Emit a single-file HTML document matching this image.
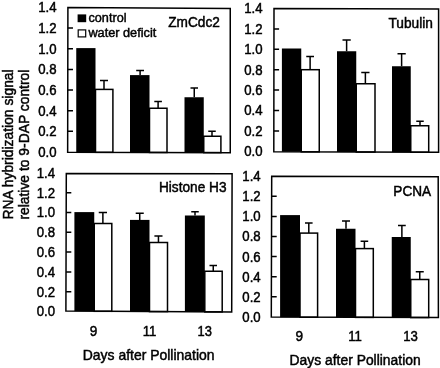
<!DOCTYPE html>
<html><head><meta charset="utf-8"><title>Chart</title>
<style>
html,body{margin:0;padding:0;background:#fff;}
body{width:440px;height:368px;overflow:hidden;}
svg{display:block;filter:grayscale(1) blur(0.35px);}
text{font-family:"Liberation Sans",sans-serif;font-size:13.6px;fill:#000;stroke:#000;stroke-width:0.45px;}
</style></head><body>
<svg width="440" height="368" viewBox="0 0 440 368">
<rect x="0" y="0" width="440" height="368" fill="#fff"/>
<g>
<rect x="76.25" y="48.1" width="19.25" height="104.15" fill="#000"/>
<rect x="95.5" y="89.4" width="17.40" height="62.90" fill="#fff" stroke="#000" stroke-width="1.5"/>
<path d="M104.00 89.4 V80.5 M100 80.5 H108" stroke="#000" stroke-width="1.5" fill="none"/>
<rect x="130" y="75.1" width="19.50" height="77.30" fill="#000"/>
<path d="M140.10 75.1 V70.5 M136.2 70.5 H144" stroke="#000" stroke-width="1.5" fill="none"/>
<rect x="149.5" y="108.25" width="17.50" height="44.20" fill="#fff" stroke="#000" stroke-width="1.5"/>
<path d="M158.10 108.25 V101.5 M154.3 101.5 H161.9" stroke="#000" stroke-width="1.5" fill="none"/>
<rect x="184.5" y="97.25" width="19.25" height="55.30" fill="#000"/>
<path d="M194.25 97.25 V88 M190.5 88 H198" stroke="#000" stroke-width="1.5" fill="none"/>
<rect x="203.75" y="136.25" width="17.15" height="16.35" fill="#fff" stroke="#000" stroke-width="1.5"/>
<path d="M212.00 136.25 V131.25 M208.25 131.25 H215.75" stroke="#000" stroke-width="1.5" fill="none"/>
<polygon points="67.9,7.4 230.25,8.4 230.25,152.65 67.65,152.2" fill="none" stroke="#000" stroke-width="1.5"/>
<text transform="translate(56.50,156.95) scale(0.97,1.07)" text-anchor="end">0.0</text>
<text transform="translate(56.50,136.30) scale(0.97,1.07)" text-anchor="end">0.2</text>
<text transform="translate(56.50,115.65) scale(0.97,1.07)" text-anchor="end">0.4</text>
<text transform="translate(56.50,95.00) scale(0.97,1.07)" text-anchor="end">0.6</text>
<text transform="translate(56.50,74.35) scale(0.97,1.07)" text-anchor="end">0.8</text>
<text transform="translate(56.50,53.70) scale(0.97,1.07)" text-anchor="end">1.0</text>
<text transform="translate(56.50,33.05) scale(0.97,1.07)" text-anchor="end">1.2</text>
<text transform="translate(56.50,12.40) scale(0.97,1.07)" text-anchor="end">1.4</text>
<path d="M67.78 131.35 h5.2 M67.78 110.70 h5.2 M67.78 90.05 h5.2 M67.78 69.40 h5.2 M67.78 48.75 h5.2 M67.78 28.10 h5.2 " stroke="#000" stroke-width="1.5" fill="none"/>
<text transform="translate(219.80,26.80) scale(1.005,1.06)" text-anchor="end">ZmCdc2</text>
</g>
<g>
<rect x="281.9" y="48.5" width="19.35" height="103.26" fill="#000"/>
<rect x="301.25" y="69.7" width="18.00" height="82.13" fill="#fff" stroke="#000" stroke-width="1.5"/>
<path d="M310.12 69.7 V56.4 M306.25 56.4 H314.0" stroke="#000" stroke-width="1.5" fill="none"/>
<rect x="337" y="51.25" width="19.25" height="100.72" fill="#000"/>
<path d="M346.62 51.25 V40 M342.5 40 H350.75" stroke="#000" stroke-width="1.5" fill="none"/>
<rect x="356.25" y="83.75" width="18.75" height="68.28" fill="#fff" stroke="#000" stroke-width="1.5"/>
<path d="M365.38 83.75 V72.5 M361.25 72.5 H369.5" stroke="#000" stroke-width="1.5" fill="none"/>
<rect x="392" y="66.25" width="18.75" height="85.91" fill="#000"/>
<path d="M401.62 66.25 V53.75 M397.5 53.75 H405.75" stroke="#000" stroke-width="1.5" fill="none"/>
<rect x="410.75" y="125.75" width="17.95" height="26.48" fill="#fff" stroke="#000" stroke-width="1.5"/>
<path d="M420.00 125.75 V121.2 M416.25 121.2 H423.75" stroke="#000" stroke-width="1.5" fill="none"/>
<polygon points="274.0,8.5 438.6,9.1 438.6,152.3 273.8,151.7" fill="none" stroke="#000" stroke-width="1.5"/>
<text transform="translate(262.60,156.25) scale(0.97,1.07)" text-anchor="end">0.0</text>
<text transform="translate(262.60,135.85) scale(0.97,1.07)" text-anchor="end">0.2</text>
<text transform="translate(262.60,115.45) scale(0.97,1.07)" text-anchor="end">0.4</text>
<text transform="translate(262.60,95.05) scale(0.97,1.07)" text-anchor="end">0.6</text>
<text transform="translate(262.60,74.65) scale(0.97,1.07)" text-anchor="end">0.8</text>
<text transform="translate(262.60,54.25) scale(0.97,1.07)" text-anchor="end">1.0</text>
<text transform="translate(262.60,33.85) scale(0.97,1.07)" text-anchor="end">1.2</text>
<text transform="translate(262.60,13.45) scale(0.97,1.07)" text-anchor="end">1.4</text>
<path d="M273.90 130.90 h5.2 M273.90 110.50 h5.2 M273.90 90.10 h5.2 M273.90 69.70 h5.2 M273.90 49.30 h5.2 M273.90 28.90 h5.2 " stroke="#000" stroke-width="1.5" fill="none"/>
<text transform="translate(432.90,27.60) scale(1.01,1.01)" text-anchor="end">Tubulin</text>
</g>
<g>
<rect x="74.4" y="212.1" width="19.85" height="99.10" fill="#000"/>
<rect x="94.25" y="223.5" width="17.55" height="87.80" fill="#fff" stroke="#000" stroke-width="1.5"/>
<path d="M102.88 223.5 V212.6 M98.75 212.6 H107" stroke="#000" stroke-width="1.5" fill="none"/>
<rect x="130" y="219.9" width="19.50" height="91.60" fill="#000"/>
<path d="M139.72 219.9 V213.25 M135.7 213.25 H143.75" stroke="#000" stroke-width="1.5" fill="none"/>
<rect x="149.5" y="242.5" width="18.00" height="69.10" fill="#fff" stroke="#000" stroke-width="1.5"/>
<path d="M158.45 242.5 V235.9 M154.4 235.9 H162.5" stroke="#000" stroke-width="1.5" fill="none"/>
<rect x="184.9" y="215.5" width="19.90" height="96.30" fill="#000"/>
<path d="M195.00 215.5 V211.75 M191.25 211.75 H198.75" stroke="#000" stroke-width="1.5" fill="none"/>
<rect x="204.8" y="271.25" width="17.40" height="40.65" fill="#fff" stroke="#000" stroke-width="1.5"/>
<path d="M213.25 271.25 V265.6 M209.5 265.6 H217" stroke="#000" stroke-width="1.5" fill="none"/>
<polygon points="66.3,173.4 232.1,173.8 231.7,312.0 65.9,311.1" fill="none" stroke="#000" stroke-width="1.5"/>
<text transform="translate(55.10,316.45) scale(0.97,1.07)" text-anchor="end">0.0</text>
<text transform="translate(55.10,296.65) scale(0.97,1.07)" text-anchor="end">0.2</text>
<text transform="translate(55.10,276.85) scale(0.97,1.07)" text-anchor="end">0.4</text>
<text transform="translate(55.10,257.05) scale(0.97,1.07)" text-anchor="end">0.6</text>
<text transform="translate(55.10,237.25) scale(0.97,1.07)" text-anchor="end">0.8</text>
<text transform="translate(55.10,217.45) scale(0.97,1.07)" text-anchor="end">1.0</text>
<text transform="translate(55.10,197.65) scale(0.97,1.07)" text-anchor="end">1.2</text>
<text transform="translate(55.10,177.85) scale(0.97,1.07)" text-anchor="end">1.4</text>
<path d="M66.10 291.70 h5.2 M66.10 271.90 h5.2 M66.10 252.10 h5.2 M66.10 232.30 h5.2 M66.10 212.50 h5.2 M66.10 192.70 h5.2 " stroke="#000" stroke-width="1.5" fill="none"/>
<text transform="translate(226.50,192.30) scale(1.005,1.05)" text-anchor="end">Histone H3</text>
</g>
<g>
<rect x="280.1" y="215.1" width="19.90" height="102.06" fill="#000"/>
<rect x="300.0" y="233.1" width="17.60" height="84.11" fill="#fff" stroke="#000" stroke-width="1.5"/>
<path d="M308.80 233.1 V222.9 M305 222.9 H312.6" stroke="#000" stroke-width="1.5" fill="none"/>
<rect x="336.0" y="228.75" width="19.50" height="88.57" fill="#000"/>
<path d="M346.00 228.75 V221.1 M342 221.1 H350" stroke="#000" stroke-width="1.5" fill="none"/>
<rect x="355.5" y="248.6" width="17.80" height="68.78" fill="#fff" stroke="#000" stroke-width="1.5"/>
<path d="M364.40 248.6 V241.3 M360.6 241.3 H368.2" stroke="#000" stroke-width="1.5" fill="none"/>
<rect x="391.75" y="237" width="19.00" height="80.49" fill="#000"/>
<path d="M401.88 237 V225.5 M398 225.5 H405.75" stroke="#000" stroke-width="1.5" fill="none"/>
<rect x="410.75" y="279.5" width="17.95" height="38.04" fill="#fff" stroke="#000" stroke-width="1.5"/>
<path d="M419.75 279.5 V271.75 M415.75 271.75 H423.75" stroke="#000" stroke-width="1.5" fill="none"/>
<polygon points="271.7,176.3 438.2,176.7 438.4,317.6 271.3,317.1" fill="none" stroke="#000" stroke-width="1.5"/>
<text transform="translate(260.70,321.75) scale(0.97,1.07)" text-anchor="end">0.0</text>
<text transform="translate(260.70,301.67) scale(0.97,1.07)" text-anchor="end">0.2</text>
<text transform="translate(260.70,281.59) scale(0.97,1.07)" text-anchor="end">0.4</text>
<text transform="translate(260.70,261.51) scale(0.97,1.07)" text-anchor="end">0.6</text>
<text transform="translate(260.70,241.43) scale(0.97,1.07)" text-anchor="end">0.8</text>
<text transform="translate(260.70,221.35) scale(0.97,1.07)" text-anchor="end">1.0</text>
<text transform="translate(260.70,201.27) scale(0.97,1.07)" text-anchor="end">1.2</text>
<text transform="translate(260.70,181.19) scale(0.97,1.07)" text-anchor="end">1.4</text>
<path d="M271.50 296.72 h5.2 M271.50 276.64 h5.2 M271.50 256.56 h5.2 M271.50 236.48 h5.2 M271.50 216.40 h5.2 M271.50 196.32 h5.2 " stroke="#000" stroke-width="1.5" fill="none"/>
<text transform="translate(431.10,195.60) scale(1.0,1.06)" text-anchor="end">PCNA</text>
</g>
<rect x="77.6" y="14.4" width="8.6" height="7.8" fill="#000"/>
<rect x="78.2" y="29.9" width="7.5" height="7" fill="#fff" stroke="#000" stroke-width="1.2"/>
<text transform="translate(88.50,22.30) scale(0.99,0.97)" style="font-size:12.8px">control</text>
<text transform="translate(88.40,37.35) scale(0.995,0.97)" style="font-size:12.8px">water deficit</text>
<text transform="translate(13.30,219.60) rotate(-90) scale(1.02,1.09)">RNA hybridization signal</text>
<text transform="translate(29.30,219.60) rotate(-90) scale(1.02,1.05)">relative to 9-DAP control</text>
<text transform="translate(93.60,336.20) scale(1.0,1.05)" text-anchor="middle">9</text>
<text transform="translate(149.50,336.20) scale(0.97,1.05)" text-anchor="middle">11</text>
<text transform="translate(204.80,336.30) scale(0.95,1.05)" text-anchor="middle">13</text>
<text transform="translate(82.80,359.60) scale(1.025,1.03)">Days after Pollination</text>
<text transform="translate(299.30,341.40) scale(1.0,1.05)" text-anchor="middle">9</text>
<text transform="translate(355.10,341.40) scale(0.97,1.05)" text-anchor="middle">11</text>
<text transform="translate(410.60,341.40) scale(0.97,1.05)" text-anchor="middle">13</text>
<text transform="translate(289.60,364.80) scale(1.02,1.03)">Days after Pollination</text>
</svg>
</body></html>
